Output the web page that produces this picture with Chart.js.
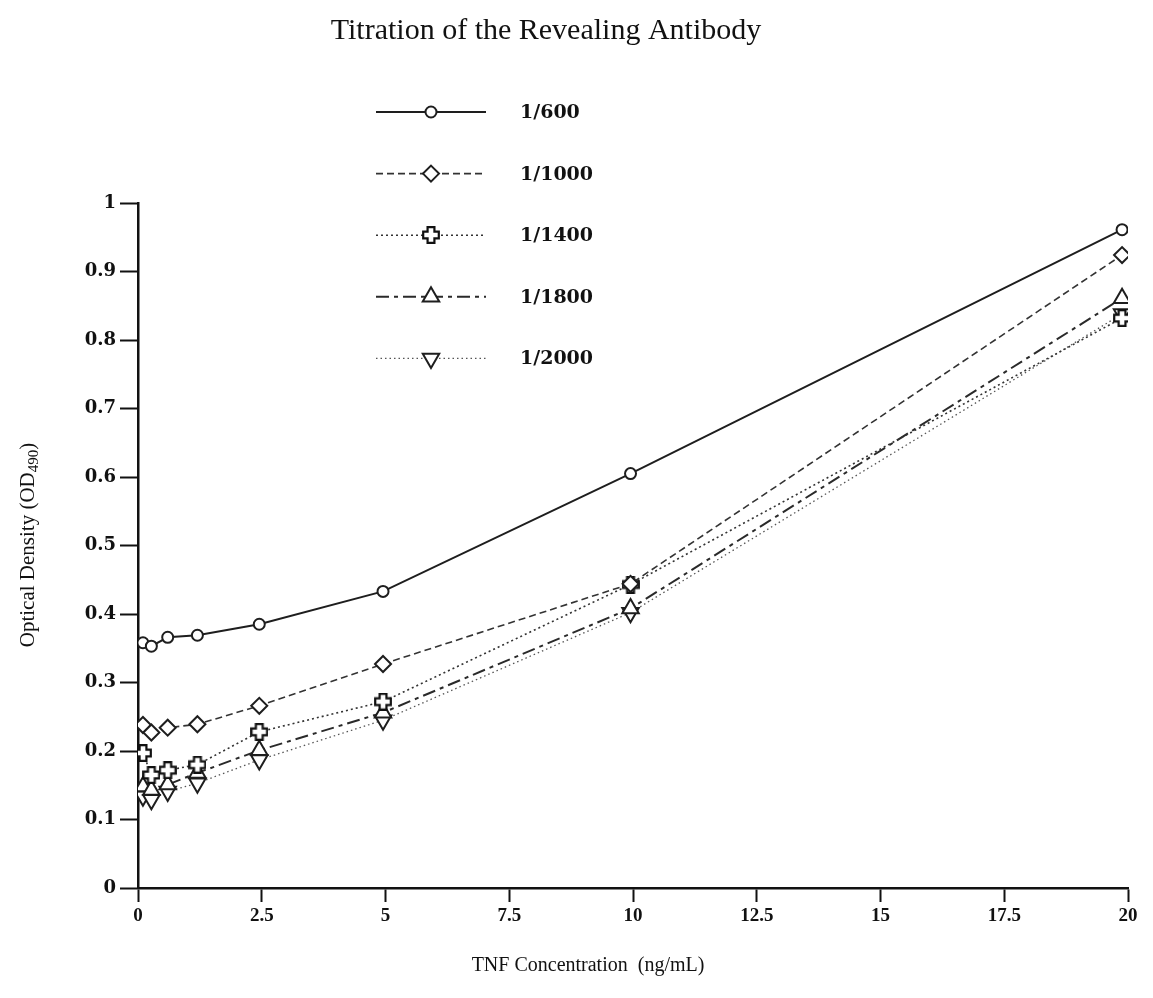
<!DOCTYPE html>
<html>
<head>
<meta charset="utf-8">
<script src="https://cdn.jsdelivr.net/npm/chart.js@4/dist/chart.umd.min.js"></script>
<style>
  html, body { margin: 0; padding: 0; background: #fff; }
  #wrap { width: 1153px; height: 998px; }
</style>
</head>
<body>
<div id="wrap"><canvas id="c" width="1153" height="998"></canvas></div>
<script>
// ---- data ----
const concentrations = [0.1, 0.27, 0.6, 1.2, 2.45, 4.95, 9.95, 19.88];
const dilutions = ['1/600', '1/1000', '1/1400', '1/1800', '1/2000'];
const od600  = [0.358, 0.353, 0.366, 0.369, 0.385, 0.433, 0.605, 0.961];
const od1000 = [0.238, 0.227, 0.234, 0.239, 0.266, 0.327, 0.444, 0.924];
const od1400 = [0.197, 0.165, 0.172, 0.180, 0.228, 0.272, 0.443, 0.832];
const od1800 = [0.148, 0.143, 0.151, 0.168, 0.201, 0.256, 0.408, 0.861];
const od2000 = [0.134, 0.129, 0.141, 0.153, 0.187, 0.245, 0.402, 0.838];
const xTicks = [0, 2.5, 5, 7.5, 10, 12.5, 15, 17.5, 20];
const yTicks = [0, 0.1, 0.2, 0.3, 0.4, 0.5, 0.6, 0.7, 0.8, 0.9, 1];
const titleText = 'Titration of the Revealing Antibody';
const xTitle = 'TNF Concentration  (ng/mL)';
const yTitleMain = 'Optical Density (OD';
const yTitleSub = '490';
const yTitleEnd = ')';

const INK = '#1e1e1e';

function makeCross(size) {
  const c = document.createElement('canvas');
  c.width = size; c.height = size;
  const g = c.getContext('2d');
  const m = size / 2, a = size * 0.19, e = size / 2 - 1.2;
  g.beginPath();
  g.moveTo(m - a, m - e); g.lineTo(m + a, m - e); g.lineTo(m + a, m - a);
  g.lineTo(m + e, m - a); g.lineTo(m + e, m + a); g.lineTo(m + a, m + a);
  g.lineTo(m + a, m + e); g.lineTo(m - a, m + e); g.lineTo(m - a, m + a);
  g.lineTo(m - e, m + a); g.lineTo(m - e, m - a); g.lineTo(m - a, m - a);
  g.closePath();
  g.fillStyle = '#fff'; g.fill();
  g.lineWidth = 2.2; g.strokeStyle = '#111'; g.lineJoin = 'miter'; g.stroke();
  return c;
}
const crossImg = makeCross(18);

function pts(ys) { return concentrations.map((x, i) => ({ x: x, y: ys[i] })); }

const seriesValues = [od600, od1000, od1400, od1800, od2000];
const styles = [
  { dash: [], width: 2, color: INK, point: 'circle', radius: 5.5, rot: 0 },
  { dash: [7, 4], width: 1.6, color: '#333', point: 'rectRot', radius: 8, rot: 0 },
  { dash: [2, 3], width: 1.6, color: '#333', point: crossImg, radius: 9, rot: 0 },
  { dash: [13, 5, 4, 5], width: 2, color: '#2a2a2a', point: 'triangle', radius: 9.5, rot: 0 },
  { dash: [1.5, 3], width: 1.3, color: '#555', point: 'triangle', radius: 9.5, rot: 180 }
];

const datasets = dilutions.map((lab, i) => ({
  label: lab,
  data: pts(seriesValues[i]),
  borderColor: styles[i].color,
  borderWidth: styles[i].width,
  borderDash: styles[i].dash,
  pointStyle: styles[i].point,
  pointRadius: styles[i].radius,
  pointRotation: styles[i].rot,
  pointBackgroundColor: '#fff',
  pointBorderColor: INK,
  pointBorderWidth: 2,
  tension: 0,
  fill: false,
  order: i
}));

function drawMarker(ctx, st, x, y) {
  ctx.save();
  ctx.setLineDash([]);
  ctx.lineWidth = 2;
  ctx.strokeStyle = INK;
  ctx.fillStyle = '#fff';
  const r = st.radius;
  ctx.beginPath();
  if (st.point === 'circle') {
    ctx.arc(x, y, r, 0, Math.PI * 2);
  } else if (st.point === 'rectRot') {
    ctx.moveTo(x, y - r); ctx.lineTo(x + r, y); ctx.lineTo(x, y + r); ctx.lineTo(x - r, y); ctx.closePath();
  } else if (st.point === 'triangle') {
    const s = st.rot === 180 ? -1 : 1;
    ctx.moveTo(x, y - s * r);
    ctx.lineTo(x + r * 0.866, y + s * r * 0.5);
    ctx.lineTo(x - r * 0.866, y + s * r * 0.5);
    ctx.closePath();
  } else {
    ctx.drawImage(st.point, Math.round(x - st.point.width / 2), Math.round(y - st.point.height / 2));
    ctx.restore();
    return;
  }
  ctx.fill(); ctx.stroke();
  ctx.restore();
}

const decor = {
  id: 'decor',
  afterDraw(chart) {
    const ctx = chart.ctx;
    ctx.save();
    // title
    ctx.fillStyle = '#111';
    ctx.font = '30px "Liberation Serif", serif';
    ctx.textAlign = 'center';
    ctx.textBaseline = 'middle';
    ctx.fillText(titleText, 546, 31);

    // x axis title
    ctx.font = '20px "Liberation Serif", serif';
    ctx.fillText(xTitle, 588, 966);

    // y axis title with subscript
    ctx.save();
    ctx.translate(27, 545);
    ctx.rotate(-Math.PI / 2);
    ctx.textAlign = 'left';
    ctx.textBaseline = 'alphabetic';
    const mainFont = '21px "Liberation Serif", serif';
    const subFont = '15px "Liberation Serif", serif';
    ctx.font = mainFont; const w1 = ctx.measureText(yTitleMain).width; const w3 = ctx.measureText(yTitleEnd).width;
    ctx.font = subFont; const w2 = ctx.measureText(yTitleSub).width;
    const total = w1 + w2 + w3;
    let px = -total / 2;
    ctx.font = mainFont; ctx.fillText(yTitleMain, px, 7); px += w1;
    ctx.font = subFont; ctx.fillText(yTitleSub, px, 11); px += w2;
    ctx.font = mainFont; ctx.fillText(yTitleEnd, px, 7);
    ctx.restore();

    // legend
    const lx0 = 376, lx1 = 486, mx = 431, tx = 520;
    dilutions.forEach((lab, i) => {
      const st = styles[i];
      const y = 112 + i * 61.6;
      ctx.save();
      ctx.strokeStyle = st.color;
      ctx.lineWidth = st.width;
      ctx.setLineDash(st.dash);
      ctx.beginPath(); ctx.moveTo(lx0, y); ctx.lineTo(lx1, y); ctx.stroke();
      ctx.restore();
      drawMarker(ctx, st, mx, y);
      ctx.fillStyle = '#111';
      ctx.font = 'bold 19px "DejaVu Serif", serif';
      ctx.textAlign = 'left';
      ctx.textBaseline = 'middle';
      ctx.fillText(lab, tx, y + 1);
    });
    ctx.restore();
  }
};

new Chart(document.getElementById('c'), {
  type: 'line',
  data: { datasets: datasets },
  plugins: [decor],
  options: {
    responsive: false,
    animation: false,
    events: [],
    layout: { padding: { top: 203, right: 25, left: 0, bottom: 0 } },
    plugins: { legend: { display: false }, title: { display: false }, tooltip: { enabled: false } },
    scales: {
      x: {
        type: 'linear', min: 0, max: 20,
        afterBuildTicks(s) { s.ticks = xTicks.map(v => ({ value: v })); },
        ticks: {
          color: '#111', padding: 3, maxRotation: 0, autoSkip: false,
          font: { family: '"Liberation Serif", serif', size: 19, weight: 'bold' },
          callback: v => String(v)
        },
        grid: { drawOnChartArea: false, drawTicks: true, tickLength: 14, tickWidth: 2, tickColor: '#111' },
        border: { color: '#111', width: 2.5 },
        afterFit(s) { s.height = 110; }
      },
      y: {
        type: 'linear', min: 0, max: 1,
        afterBuildTicks(s) { s.ticks = yTicks.map(v => ({ value: v })); },
        ticks: {
          color: '#111', padding: 4, autoSkip: false,
          font: { family: '"DejaVu Serif", serif', size: 18, weight: 'bold' },
          callback: v => String(v)
        },
        grid: { drawOnChartArea: false, drawTicks: true, tickLength: 18, tickWidth: 2, tickColor: '#111' },
        border: { color: '#111', width: 2.5 },
        afterFit(s) { s.width = 138; }
      }
    }
  }
});
</script>
</body>
</html>
